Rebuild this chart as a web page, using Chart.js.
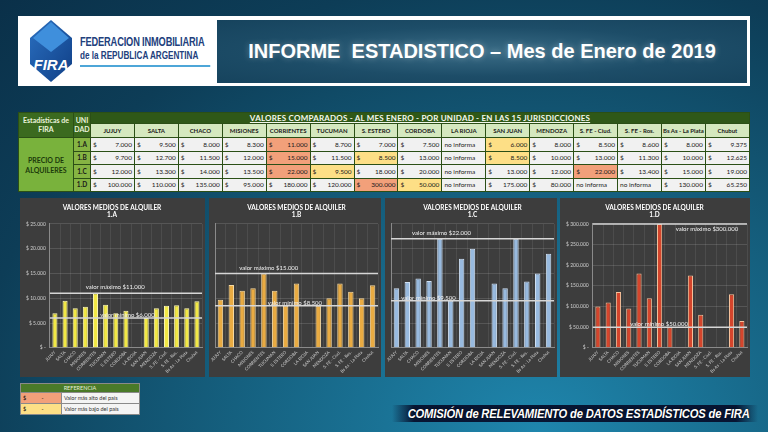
<!DOCTYPE html>
<html>
<head>
<meta charset="utf-8">
<script src="https://cdn.jsdelivr.net/npm/chart.js@4.4.0/dist/chart.umd.min.js"></script>
<style>
  html, body { margin: 0; padding: 0; }
  body {
    width: 768px; height: 432px; overflow: hidden; position: relative;
    background: radial-gradient(ellipse at 70% 100%, #1f86ad 0%, #15607f 40%, #0d3d57 75%, #0a3049 100%);
    font-family: Lato, "Liberation Sans", sans-serif;
  }
  .header { position: absolute; left: 18px; top: 16px; width: 732px; height: 70px; background: #fff; }
  .logo { position: absolute; left: 8px; top: 2px; }
  .org { position: absolute; left: 62px; top: 20px; color: #22407c; font-family: "Liberation Sans", sans-serif; font-weight: bold; line-height: 13px; transform: scaleX(0.74); transform-origin: left top; }
  .org .l1 { font-size: 12.5px; letter-spacing: -0.2px; }
  .org .l2 { font-size: 11px; }
  .org .bar { margin-top: 3px; width: 176px; height: 2px; background: #4ea6d8; }
  .title { position: absolute; left: 199px; top: 4px; width: 530px; height: 63px; background: radial-gradient(ellipse at 50% 50%, #3a6c86 0%, #1d4d68 55%, #16435d 100%); display: flex; align-items: center; justify-content: center; }
  .title span { color: #fff; font-family: "Liberation Sans", Arial, sans-serif; font-weight: bold; font-size: 20px; white-space: pre; text-shadow: 0 0 6px rgba(255,255,255,0.35); }
  table.t { position: absolute; left: 18px; top: 112px; width: 732px; border-collapse: collapse; table-layout: fixed; font-size: 6.5px; color: #1a1a1a; }
  table.t td { border: 1px solid #2b4f16; padding: 0 2px; height: 12px; overflow: hidden; white-space: nowrap; }
  td.h0 { background: #3b6a1f; color: #eaf3dc; text-align: center; font-weight: bold; font-size: 7px; }
  td.top { background: #2f5818; color: #f4f8ee; text-align: center; font-weight: bold; font-size: 8px; text-decoration: underline; height: 9px !important; letter-spacing: 0.2px; }
  td.jur { background: #d5e8bf; text-align: center; font-weight: bold; height: 13px !important; font-size: 6px; padding: 0 1px !important; }
  td.unit { background: #86b443; text-align: center; font-weight: bold; }
  td.lab { background: #79b23c; text-align: center; font-weight: bold; font-size: 7px; color: #1c3a0b; }
  td.v { background: #f1f1f1; }
  td.v.max { background: #f2a07a; }
  td.v.min { background: #fddf86; }
  td.v div { display: flex; justify-content: space-between; }
  .panel { position: absolute; top: 198px; height: 179px; background: #3d3d3d; }
  .ref { position: absolute; left: 20px; top: 383px; width: 120px; border-collapse: collapse; font-size: 5.5px; }
  .ref td { border: 1px solid #8a8a8a; height: 10px; padding: 0 2px; }
  .ref .rh { background: #4a7a29; color: #e6efd9; text-align: center; height: 8px; }
  .ref .c1 { width: 36px; }
  .ref .txt { background: #f4f4f4; color: #333; }
  .footer { position: absolute; left: 392px; top: 405px; width: 366px; height: 17px; background: linear-gradient(to right, rgba(6,16,45,0) 0%, rgba(6,16,45,0.95) 6%, rgba(6,16,45,0.95) 94%, rgba(6,16,45,0) 100%); }
  .footer span { position: absolute; right: 8px; top: 1px; color: #fff; font-family: "Liberation Sans", sans-serif; font-weight: bold; font-style: italic; font-size: 13px; white-space: nowrap; text-shadow: 0 0 2px #000; transform: scaleX(0.86); transform-origin: right top; letter-spacing: -0.2px; }
</style>
</head>
<body>
<div class="header">
  <svg class="logo" width="50" height="66" viewBox="0 0 50 66">
    <defs><linearGradient id="lg" x1="0" y1="0" x2="1" y2="1"><stop offset="0" stop-color="#2a6fc0"/><stop offset="1" stop-color="#103f86"/></linearGradient></defs>
    <polygon points="25,2 46,20 46,46 25,64 4,46 4,20" fill="url(#lg)"/>
    <polygon points="25,4 43,20 25,34 7,20" fill="#3f8fdc"/>
    <text x="25" y="52" font-family="Liberation Sans" font-weight="bold" font-size="15" fill="#fff" text-anchor="middle" font-style="italic">FIRA</text>
  </svg>
  <div class="org"><div class="l1">FEDERACION INMOBILIARIA</div><div class="l2">de la REPUBLICA ARGENTINA</div><div class="bar"></div></div>
  <div class="title"><span>INFORME  ESTADISTICO – Mes de Enero de 2019</span></div>
</div>

<table class="t" id="tbl"></table>

<div class="panel" style="left:20px;width:185px"><canvas id="cA"></canvas></div>
<div class="panel" style="left:209px;width:172px"><canvas id="cB"></canvas></div>
<div class="panel" style="left:385px;width:172px"><canvas id="cC"></canvas></div>
<div class="panel" style="left:560px;width:190px"><canvas id="cD"></canvas></div>

<table class="ref">
  <tr><td class="rh" colspan="2">REFERENCIA</td></tr>
  <tr><td class="c1" style="background:#f2a07a"><div style="display:flex;justify-content:space-between"><span>$</span><span>-</span><span></span></div></td><td class="txt">Valor más alto del país</td></tr>
  <tr><td class="c1" style="background:#fddf86"><div style="display:flex;justify-content:space-between"><span>$</span><span>-</span><span></span></div></td><td class="txt">Valor más bajo del país</td></tr>
</table>

<div class="footer"><span>COMISIÓN de RELEVAMIENTO de DATOS ESTADÍSTICOS de FIRA</span></div>

<script>
// jurisdicciones
const jurisdictions = ['JUJUY', 'SALTA', 'CHACO', 'MISIONES', 'CORRIENTES', 'TUCUMAN', 'S. ESTERO', 'CORDOBA', 'LA RIOJA', 'SAN JUAN', 'MENDOZA', 'S. FE - Ciud.', 'S. FE - Ros.', 'Bs As - La Plata', 'Chubut'];
const units = ['1.A', '1.B', '1.C', '1.D'];

// valores de alquiler por unidad (null = no informa)
const unit1A = [7000, 9500, 8000, 8300, 11000, 8700, 7000, 7500, null, 6000, 8000, 8500, 8600, 8000, 9375];
const unit1B = [9700, 12700, 11500, 12000, 15000, 11500, 8500, 13000, null, 8500, 10000, 13000, 11300, 10000, 12625];
const unit1C = [12000, 13300, 14000, 13500, 22000, 9500, 18000, 20000, null, 13000, 12000, 22000, 13400, 15000, 19000];
const unit1D = [100000, 110000, 135000, 95000, 180000, 120000, 300000, 50000, null, 175000, 80000, null, null, 130000, 65250];

// valores maximo / minimo marcados en cada grafico
const maxValues = [11000, 15000, 22000, 300000];
const minValues = [6000, 8500, 9500, 50000];

const fmt = v => v.toLocaleString('de-DE');
const money = v => v === 0 ? '$ -' : '$ ' + fmt(v);

// tabla
const tbl = document.getElementById('tbl');
let html = '<colgroup><col style="width:55px"><col style="width:17px">' + jurisdictions.map(() => '<col>').join('') + '</colgroup>';
html += '<tr><td class="h0" rowspan="2" style="white-space:normal;line-height:9px">Estadísticas de FIRA</td><td class="h0" rowspan="2" style="white-space:normal;line-height:9px;padding:0">UNI DAD</td>';
html += '<td class="top" colspan="15">VALORES COMPARADOS - AL MES ENERO - POR UNIDAD - EN LAS 15 JURISDICCIONES</td></tr>';
html += '<tr>' + jurisdictions.map(j => '<td class="jur">' + j + '</td>').join('') + '</tr>';
[unit1A, unit1B, unit1C, unit1D].forEach((row, i) => {
  const vals = row.filter(v => v !== null);
  const hi = Math.max(...vals), lo = Math.min(...vals);
  html += '<tr>';
  if (i === 0) html += '<td class="lab" rowspan="4" style="white-space:normal;line-height:10px">PRECIO DE ALQUILERES</td>';
  html += '<td class="unit">' + units[i] + '</td>';
  row.forEach(v => {
    if (v === null) { html += '<td class="v">no informa</td>'; return; }
    const cls = v === hi ? ' max' : v === lo ? ' min' : '';
    html += '<td class="v' + cls + '"><div><span>$</span><span>' + fmt(v) + '</span></div></td>';
  });
  html += '</tr>';
});
tbl.innerHTML = html;
tbl.querySelectorAll('tr:nth-child(n+3) td').forEach(td => td.style.height = '12.5px');

// lineas de valor maximo / minimo
const refLines = {
  id: 'refLines',
  afterDatasetsDraw(chart, args, opts) {
    const { ctx, chartArea: a, scales: { y } } = chart;
    ctx.save();
    ctx.strokeStyle = '#d6d6d6';
    ctx.lineWidth = 1.5;
    ctx.fillStyle = '#f2f2f2';
    ctx.font = '6px Lato';
    ctx.textAlign = 'center';
    opts.lines.forEach(l => {
      const py = y.getPixelForValue(l.value);
      ctx.beginPath(); ctx.moveTo(a.left, py); ctx.lineTo(a.right, py); ctx.stroke();
      ctx.fillText(l.text + fmt(l.value), a.left + l.at * (a.right - a.left), py + l.dy);
    });
    ctx.restore();
  }
};

Chart.defaults.font.family = 'Lato';
Chart.defaults.color = '#d9d9d9';

function makeChart(id, unit, data, color, border, yMax, step, showY, maxPos, minPos, i) {
  return new Chart(document.getElementById(id), {
    type: 'bar',
    data: {
      labels: jurisdictions,
      datasets: [{ data: data, backgroundColor: color, borderColor: border, borderWidth: 1, barPercentage: 0.5, categoryPercentage: 1 }]
    },
    options: {
      responsive: true, maintainAspectRatio: false, animation: false,
      layout: { padding: { left: showY ? 2 : 6, right: 3, bottom: 1 } },
      scales: {
        x: {
          grid: { color: 'rgba(255,255,255,0.08)', drawTicks: false },
          border: { color: '#8a8a8a' },
          ticks: { font: { size: 4.3 }, color: '#d0d0d0', maxRotation: 45, minRotation: 45, autoSkip: false, padding: 2 }
        },
        y: {
          min: 0, max: yMax,
          grid: { color: 'rgba(255,255,255,0.13)', drawTicks: false },
          border: { color: '#8a8a8a' },
          ticks: { display: showY, stepSize: step, font: { size: 5 }, color: '#d0d0d0', padding: 4, callback: v => money(v) }
        }
      },
      plugins: {
        legend: { display: false },
        tooltip: { enabled: false },
        title: { display: true, text: ['VALORES MEDIOS DE ALQUILER', unit], color: '#fff', font: { size: 6.5, weight: 'bold', lineHeight: 1.15 }, padding: { top: 6, bottom: 5 } },
        refLines: { lines: [
          { value: maxValues[i], text: 'valor máximo $', at: maxPos[0], dy: maxPos[1] },
          { value: minValues[i], text: 'valor mínimo $', at: minPos[0], dy: minPos[1] }
        ] }
      }
    },
    plugins: [refLines]
  });
}

makeChart('cA', '1.A', unit1A, '#f2e845', '#fffab8', 25000, 5000, true, [0.43, -4], [0.51, -1], 0);
makeChart('cB', '1.B', unit1B, '#e9ab42', '#f7d9a0', 25000, 5000, false, [0.33, -4], [0.49, -1], 1);
makeChart('cC', '1.C', unit1C, '#98badf', '#cfe0f3', 25000, 5000, false, [0.31, -4], [0.23, -1], 2);
makeChart('cD', '1.D', unit1D, '#d5452c', '#f6c29c', 300000, 50000, true, [0.74, 7], [0.43, -1], 3);
</script>
</body>
</html>
